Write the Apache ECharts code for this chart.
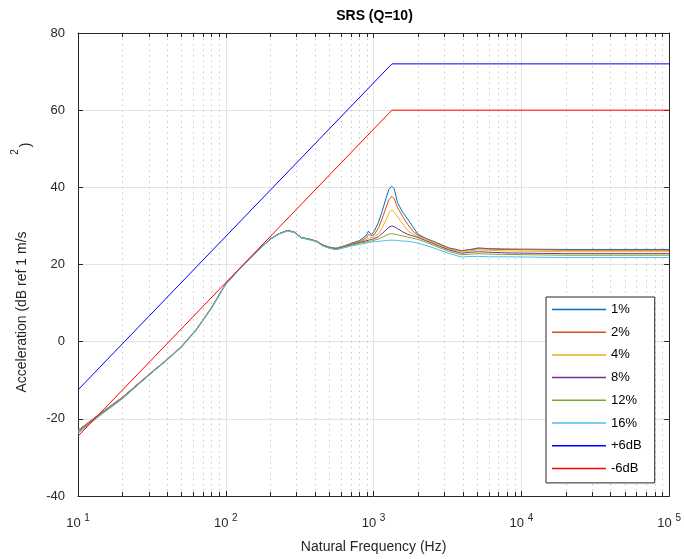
<!DOCTYPE html>
<html>
<head>
<meta charset="utf-8">
<script src="https://cdn.jsdelivr.net/npm/echarts@6/dist/echarts.min.js"></script>
<style>
  html, body { margin: 0; padding: 0; background: #fff; }
  #chart { width: 684px; height: 559px; }
</style>
</head>
<body>
<div id="chart"></div>
<script>
// Shock response spectrum, Q = 10, for several damping settings plus +/-6 dB limit lines.
const FONT = '"Liberation Sans", Arial, Helvetica, sans-serif';

// Natural frequencies (Hz) shared by the six SRS curves
const freqHz = [10, 13.4, 20, 30, 40, 50, 63, 80, 100, 125, 160, 200, 230, 262, 290, 323, 367, 410, 452, 500,
  556, 630, 710, 800, 885, 925, 970, 1010, 1080, 1140, 1210, 1270, 1327, 1380, 1450, 1570, 1700, 1850,
  2000, 2250, 2770, 3230, 3950, 4500, 5150, 6000, 8000, 20000, 100000];

// Acceleration (dB ref 1 m/s^2) per curve
const srs1 = [-23.0, -19.3, -14.4, -8.6, -4.6, -1.3, 3.1, 8.8, 15.0, 19.0, 23.2, 26.6, 28.0, 28.8, 28.4, 27.0, 26.6, 26.1, 25.1, 24.5,
  24.2, 24.8, 25.5, 26.2, 27.4, 28.6, 27.8, 28.6, 31.0, 33.7, 37.0, 39.5, 40.3, 39.6, 36.1, 33.6, 31.8, 29.7,
  27.8, 26.8, 25.4, 24.3, 23.6, 23.9, 24.3, 24.1, 24.0, 23.9, 23.9];
const srs2 = [-23.0, -19.3, -14.4, -8.6, -4.6, -1.3, 3.1, 8.8, 15.0, 19.0, 23.2, 26.6, 28.0, 28.8, 28.4, 27.0, 26.6, 26.1, 25.1, 24.5,
  24.2, 24.8, 25.4, 26.0, 26.8, 27.8, 27.5, 27.7, 29.5, 31.8, 34.6, 36.8, 37.7, 37.0, 34.8, 32.5, 30.4, 28.6,
  27.6, 26.7, 25.3, 24.2, 23.5, 23.8, 24.1, 24.0, 23.9, 23.7, 23.7];
const srs4 = [-23.1, -19.4, -14.5, -8.6, -4.6, -1.3, 3.1, 8.8, 15.0, 19.0, 23.2, 26.6, 28.0, 28.8, 28.4, 27.0, 26.6, 26.1, 25.1, 24.4,
  24.1, 24.7, 25.3, 25.9, 26.4, 26.8, 27.0, 27.1, 28.0, 29.4, 31.5, 33.3, 34.2, 33.6, 32.4, 30.6, 28.8, 27.9,
  27.3, 26.5, 25.1, 24.0, 23.3, 23.6, 23.8, 23.7, 23.5, 23.3, 23.3];
const srs8 = [-23.3, -19.5, -14.6, -8.7, -4.7, -1.4, 3.0, 8.7, 15.0, 19.0, 23.2, 26.6, 28.0, 28.8, 28.4, 27.0, 26.5, 26.0, 25.0, 24.4,
  24.0, 24.6, 25.2, 25.7, 26.1, 26.3, 26.5, 26.7, 27.2, 28.0, 28.9, 29.7, 30.0, 29.8, 29.3, 28.5, 27.8, 27.4,
  27.0, 26.2, 24.8, 23.8, 22.9, 23.2, 23.3, 23.2, 23.0, 22.8, 22.8];
const srs12 = [-23.5, -19.6, -14.7, -8.8, -4.7, -1.4, 3.0, 8.7, 14.9, 18.9, 23.1, 26.5, 28.0, 28.7, 28.3, 26.9, 26.5, 26.0, 24.9, 24.3,
  23.9, 24.5, 25.0, 25.5, 25.8, 26.0, 26.1, 26.3, 26.6, 27.0, 27.5, 27.9, 28.0, 27.9, 27.7, 27.4, 27.1, 26.8,
  26.5, 25.8, 24.4, 23.4, 22.5, 22.7, 22.8, 22.7, 22.6, 22.4, 22.4];
const srs16 = [-23.8, -19.8, -14.8, -8.8, -4.8, -1.5, 2.9, 8.6, 14.9, 18.9, 23.1, 26.5, 27.9, 28.7, 28.3, 26.9, 26.4, 25.9, 24.8, 24.2,
  23.8, 24.3, 24.8, 25.2, 25.5, 25.7, 25.8, 25.9, 26.0, 26.1, 26.2, 26.3, 26.3, 26.3, 26.2, 26.1, 26.0, 25.8,
  25.5, 25.0, 23.8, 22.9, 21.9, 22.1, 22.1, 22.0, 22.0, 21.8, 21.8];

// Limit lines: breakpoints (Hz) and levels (dB)
const limitHz = [10, 1330, 100000];
const plus6dB = [-12.5, 72, 72];
const minus6dB = [-24.5, 60, 60];

const seriesNames = ['1%', '2%', '4%', '8%', '12%', '16%', '+6dB', '-6dB'];
const seriesColors = ['#0072BD', '#D95319', '#EDB120', '#7E2F8E', '#77AC30', '#4DBEEE', '#0000FF', '#FF0000'];

// Axis ranges and tick values
const xMin = 10, xMax = 100000;
const yMin = -40, yMax = 80, yStep = 20;
const minorFreqs = [];
for (let d = 10; d < xMax; d *= 10) {
  for (let k = 2; k <= 9; k++) minorFreqs.push(k * d);
}

const AXIS_COLOR = '#262626';
const GRID_COLOR = '#e3e3e3';

function pairs(xs, ys) { return xs.map((x, i) => [x, ys[i]]); }

const curveSets = [srs1, srs2, srs4, srs8, srs12, srs16];
const lineSeries = curveSets.map((vals, i) => ({
  name: seriesNames[i], type: 'line', data: pairs(freqHz, vals),
  symbol: 'none', smooth: false, lineStyle: { width: 1, color: seriesColors[i] },
  itemStyle: { color: seriesColors[i] }, z: 3
}));
lineSeries.push({
  name: seriesNames[6], type: 'line', data: pairs(limitHz, plus6dB), symbol: 'none',
  lineStyle: { width: 1, color: seriesColors[6] }, itemStyle: { color: seriesColors[6] }, z: 3
});
lineSeries.push({
  name: seriesNames[7], type: 'line', data: pairs(limitHz, minus6dB), symbol: 'none',
  lineStyle: { width: 1, color: seriesColors[7] }, itemStyle: { color: seriesColors[7] }, z: 3
});

// Dotted minor grid lines with short inward ticks at the top and bottom edges
const minorGrid = {
  type: 'custom', silent: true, z: 1,
  data: minorFreqs.map(f => [f, 0]),
  renderItem: function (params, api) {
    const cs = params.coordSys;
    const x = Math.round(api.coord([api.value(0), 0])[0]) + 0.5;
    return {
      type: 'group',
      children: [
        { type: 'line', shape: { x1: x, y1: cs.y, x2: x, y2: cs.y + cs.height },
          style: { stroke: '#c8c8c8', lineWidth: 1, lineDash: [1.5, 4] } },
        { type: 'line', shape: { x1: x, y1: cs.y, x2: x, y2: cs.y + 4 },
          style: { stroke: AXIS_COLOR, lineWidth: 1 } },
        { type: 'line', shape: { x1: x, y1: cs.y + cs.height - 4, x2: x, y2: cs.y + cs.height },
          style: { stroke: AXIS_COLOR, lineWidth: 1 } }
      ]
    };
  }
};

const chart = echarts.init(document.getElementById('chart'), null, { renderer: 'canvas' });
chart.setOption({
  animation: false,
  backgroundColor: '#fff',
  textStyle: { fontFamily: FONT },
  title: {
    text: 'SRS (Q=10)', left: 374.5, top: 9, padding: 0, textAlign: 'center',
    textStyle: { fontFamily: FONT, fontSize: 14, fontWeight: 'bold', color: '#000' }
  },
  grid: { left: 78, right: 13, top: 33, bottom: 60, containLabel: false },
  legend: {
    orient: 'vertical', left: 546, top: 297,
    data: seriesNames,
    icon: 'rect',
    itemWidth: 54, itemHeight: 1.5, itemGap: 9.7,
    padding: [6, 13, 8, 6],
    backgroundColor: '#fff', borderColor: AXIS_COLOR, borderWidth: 1,
    textStyle: { fontFamily: FONT, fontSize: 13, color: '#000', width: 39 }
  },
  xAxis: [{
    type: 'log', logBase: 10, min: xMin, max: xMax,
    name: 'Natural Frequency (Hz)', nameLocation: 'middle', nameGap: 44,
    nameTextStyle: { fontFamily: FONT, fontSize: 14, color: AXIS_COLOR },
    axisLine: { onZero: false, lineStyle: { color: AXIS_COLOR, width: 1 } },
    axisTick: { inside: true, length: 5, lineStyle: { color: AXIS_COLOR } },
    splitLine: { show: true, lineStyle: { color: GRID_COLOR, width: 1 } },
    axisLabel: {
      margin: 17, color: AXIS_COLOR,
      formatter: v => '{b|10 }{s|' + Math.round(Math.log10(v)) + '}',
      rich: {
        b: { fontFamily: FONT, fontSize: 13, color: AXIS_COLOR },
        s: { fontFamily: FONT, fontSize: 10, color: AXIS_COLOR, padding: [0, 0, 10, 0] }
      }
    }
  }, {
    type: 'log', logBase: 10, min: xMin, max: xMax, position: 'top',
    axisLine: { onZero: false, lineStyle: { color: AXIS_COLOR, width: 1 } },
    axisTick: { inside: true, length: 5, lineStyle: { color: AXIS_COLOR } },
    axisLabel: { show: false }, splitLine: { show: false }
  }],
  yAxis: [{
    type: 'value', min: yMin, max: yMax, interval: yStep,
    axisLine: { show: true, onZero: false, lineStyle: { color: AXIS_COLOR, width: 1 } },
    axisTick: { show: true, inside: true, length: 5, lineStyle: { color: AXIS_COLOR } },
    splitLine: { show: true, lineStyle: { color: GRID_COLOR, width: 1 } },
    axisLabel: { margin: 13, fontFamily: FONT, fontSize: 13, color: AXIS_COLOR }
  }, {
    type: 'value', min: yMin, max: yMax, interval: yStep, position: 'right',
    axisLine: { show: true, onZero: false, lineStyle: { color: AXIS_COLOR, width: 1 } },
    axisTick: { show: true, inside: true, length: 5, lineStyle: { color: AXIS_COLOR } },
    axisLabel: { show: false }, splitLine: { show: false }
  }],
  graphic: [
    { type: 'text', x: 22, y: 312, rotation: Math.PI / 2,
      style: { text: 'Acceleration (dB ref 1 m/s', fontFamily: FONT, fontSize: 14, fill: AXIS_COLOR,
               textAlign: 'center', textVerticalAlign: 'middle' } },
    { type: 'text', x: 15, y: 152, rotation: Math.PI / 2,
      style: { text: '2', fontFamily: FONT, fontSize: 10, fill: AXIS_COLOR,
               textAlign: 'center', textVerticalAlign: 'middle' } },
    { type: 'text', x: 26, y: 145, rotation: Math.PI / 2,
      style: { text: ')', fontFamily: FONT, fontSize: 14, fill: AXIS_COLOR,
               textAlign: 'center', textVerticalAlign: 'middle' } }
  ],
  series: [minorGrid].concat(lineSeries)
});
</script>
</body>
</html>
